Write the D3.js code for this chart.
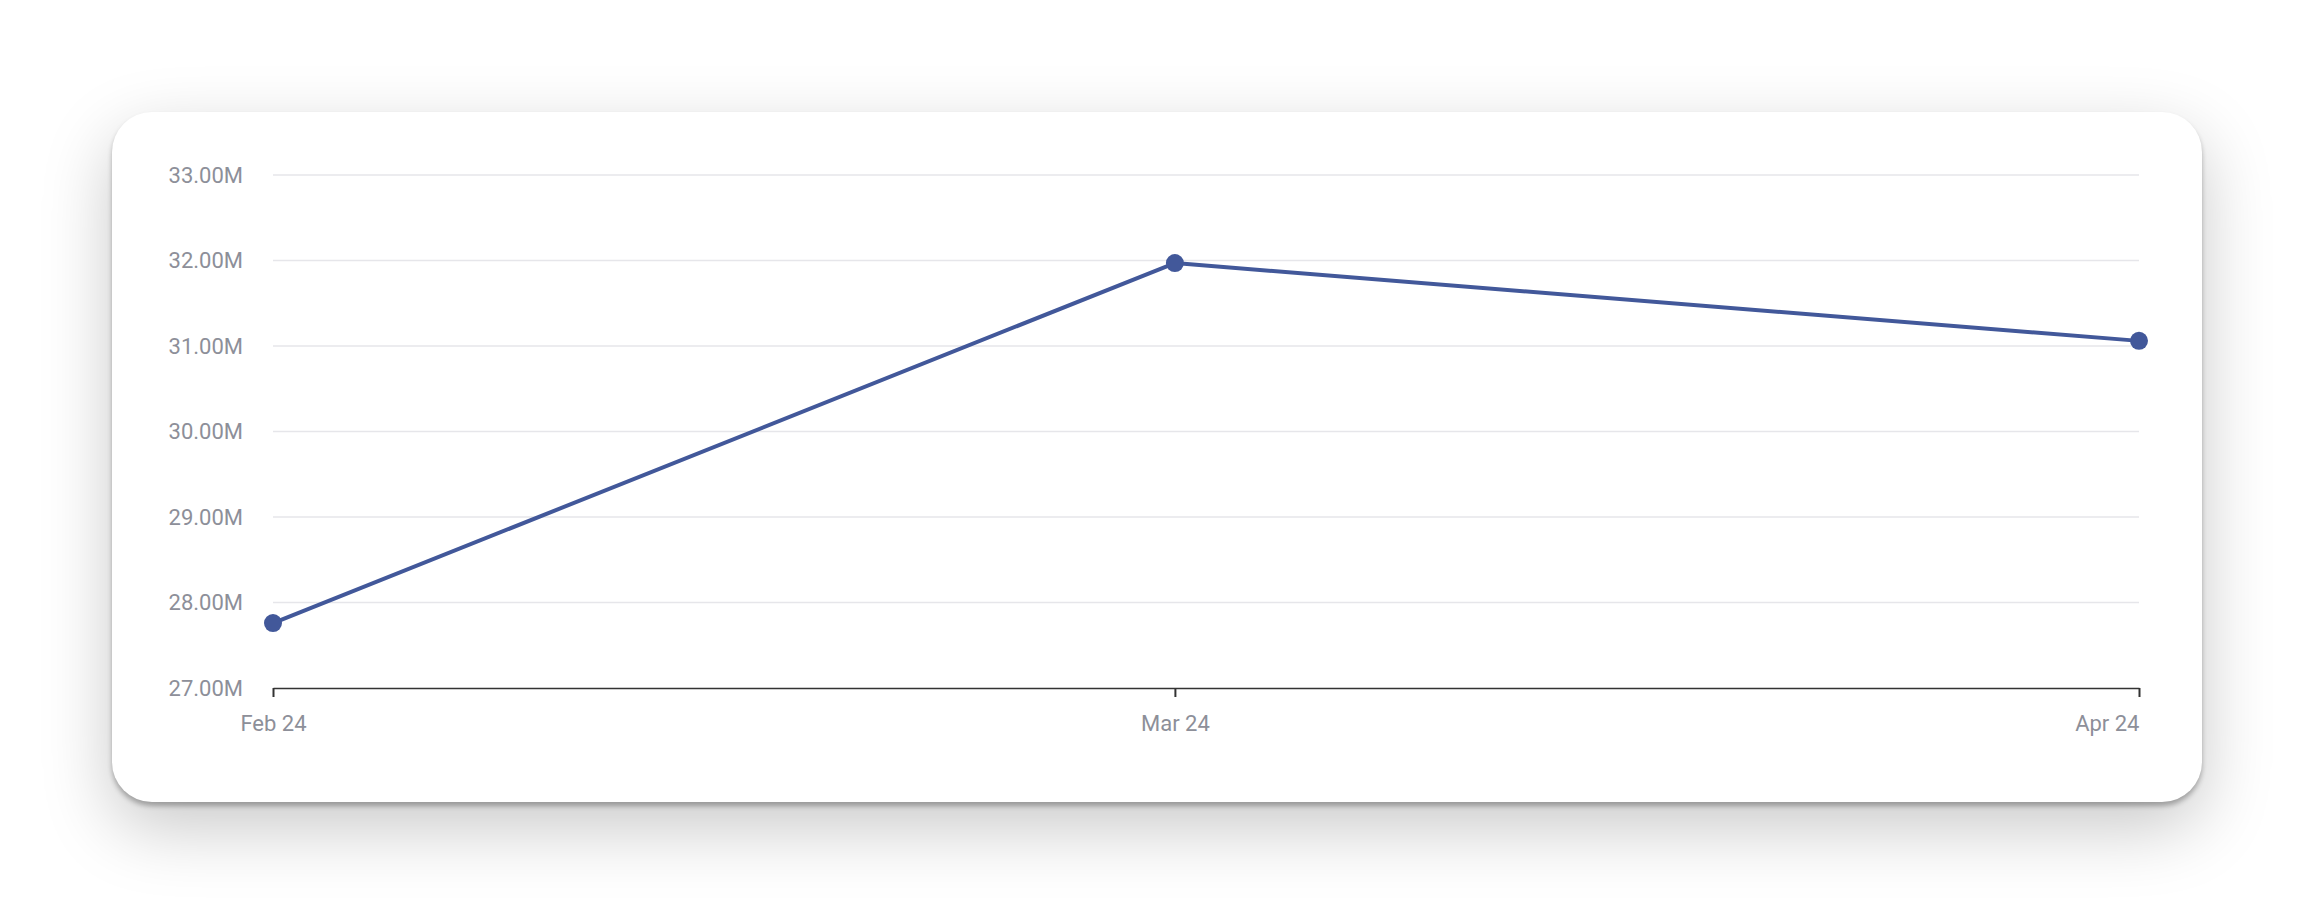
<!DOCTYPE html>
<html>
<head>
<meta charset="utf-8">
<script src="https://cdn.jsdelivr.net/npm/d3@7"></script>
<style>
  html, body { margin: 0; padding: 0; background: #ffffff; width: 2314px; height: 914px; overflow: hidden; font-family: Roboto, "Noto Sans", sans-serif; }
  #card { position: absolute; left: 112px; top: 112px; width: 2090px; height: 690px; background: #fff; border-radius: 40px;
          box-shadow: 0 4px 5px rgba(0,0,0,0.28), 0 25px 70px rgba(0,0,0,0.22); }
  svg { position: absolute; left: 0; top: 0; }
</style>
</head>
<body>
<div id="card"></div>
<svg id="chart" width="2314" height="914"></svg>
<script>
const dates = ["2024-02-01", "2024-03-01", "2024-04-01"];
const tickLabels = ["Feb 24", "Mar 24", "Apr 24"];
const values = [27.76, 31.97, 31.06]; // millions
const yTicks = [27, 28, 29, 30, 31, 32, 33];

const parse = d3.timeParse("%Y-%m-%d");
const xDates = dates.map(parse);
const svg = d3.select("#chart");
const plotLeft = 273, plotRight = 2139, plotTop = 175, plotBottom = 688;

const x = d3.scaleTime().domain([xDates[0], xDates[xDates.length - 1]]).range([plotLeft, plotRight]);
const y = d3.scaleLinear().domain([27, 33]).range([plotBottom, plotTop]);

// gridlines
svg.append("g").selectAll("line").data(yTicks.slice(1)).join("line")
  .attr("x1", plotLeft).attr("x2", plotRight)
  .attr("y1", d => y(d)).attr("y2", d => y(d))
  .attr("stroke", "#e6e6ea").attr("stroke-width", 1.5);

// y labels
const yAxis = d3.axisLeft(y).tickValues(yTicks).tickSize(0).tickPadding(0)
  .tickFormat(d => d3.format(".2f")(d) + "M");
const gy = svg.append("g").attr("transform", `translate(243,0)`).call(yAxis);
gy.select(".domain").remove();
gy.selectAll("text").attr("font-family", "Roboto, sans-serif").attr("font-size", 22).attr("fill", "#8d8f99");

// x axis
const xAxis = d3.axisBottom(x).tickValues(xDates).tickSize(9).tickSizeOuter(0).tickPadding(18)
  .tickFormat((d, i) => tickLabels[i]);
const gx = svg.append("g").attr("transform", `translate(0,${plotBottom})`).call(xAxis);
gx.select(".domain").attr("stroke", "#333").attr("stroke-width", 1.5);
gx.selectAll(".tick line").attr("stroke", "#333").attr("stroke-width", 2);
gx.selectAll("text").attr("font-family", "Roboto, sans-serif").attr("font-size", 22).attr("fill", "#8d8f99")
  .attr("text-anchor", (d, i) => i === xDates.length - 1 ? "end" : "middle");

// line
const data = xDates.map((d, i) => ({ d, v: values[i] }));
svg.append("path").datum(data)
  .attr("fill", "none").attr("stroke", "#42589a").attr("stroke-width", 4).attr("stroke-linejoin", "round")
  .attr("d", d3.line().x(p => x(p.d)).y(p => y(p.v)));

svg.append("g").selectAll("circle").data(data).join("circle")
  .attr("cx", p => x(p.d)).attr("cy", p => y(p.v)).attr("r", 9).attr("fill", "#42589a");
</script>
</body>
</html>
